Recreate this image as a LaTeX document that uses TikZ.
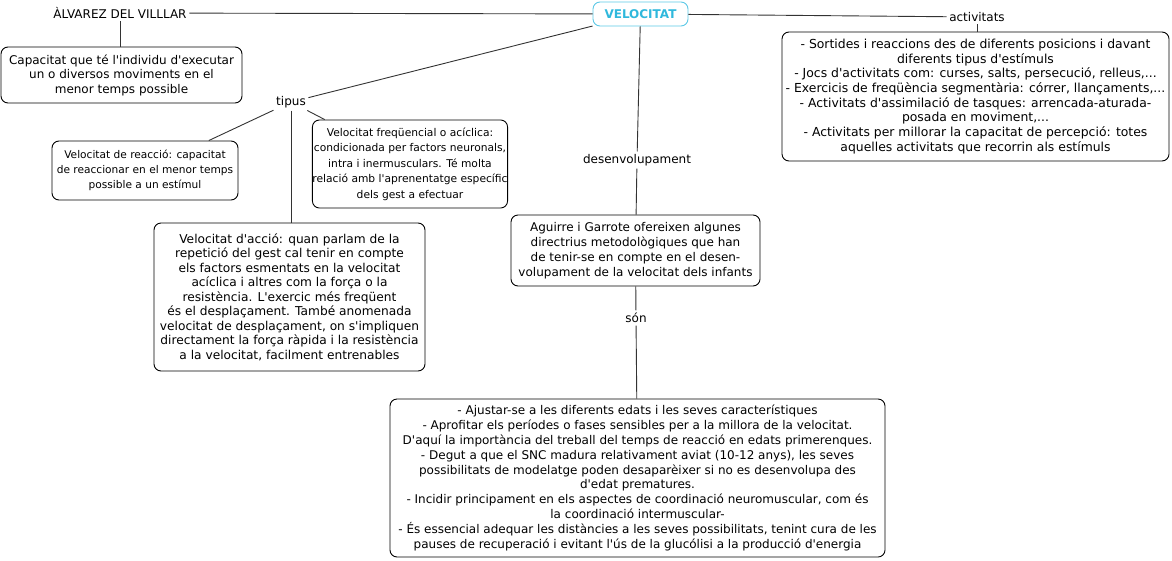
\documentclass[tikz,border=0pt]{standalone}
\usepackage{fontspec}
\setmainfont{DejaVu Sans}[Ligatures=TeXOff]
\definecolor{velc}{HTML}{2FB8DC}
\definecolor{velb}{HTML}{5CC8E6}
\definecolor{linec}{HTML}{333333}
\begin{document}
\begin{tikzpicture}[x=1pt,y=-1pt,
  every node/.style={font=\fontsize{12}{15}\selectfont},
  fsz/.style 2 args={font=\fontsize{#1}{#2}\selectfont},
  box/.style={draw=black,rounded corners=7pt,align=center,inner sep=0pt,line width=0.9pt},
  lbl/.style={inner sep=2.5pt},
  conn/.style={draw=linec,line width=0.9pt}]
\useasboundingbox (0,0) rectangle (1172,560);
\node[box,draw=velb,text=velc,font=\fontsize{12}{15}\selectfont\bfseries,minimum width=95pt,minimum height=24pt] (vel) at (640.5,14) {VELOCITAT};
\node[lbl] (alv) at (120,13) {ÀLVAREZ DEL VILLLAR};
\node[lbl] (act) at (977,17) {activitats};
\node[lbl] (tip) at (291,102) {tipus};
\node[lbl] (des) at (637,160) {desenvolupament};
\node[lbl] (son) at (636,318) {són};
\node[box,fsz={12}{14.5},minimum width=241pt,minimum height=56pt] (cap) at (121.5,75) {Capacitat que té l'individu d'executar\\un o diversos moviments en el\\menor temps possible};
\node[box,fsz={10.6}{15},minimum width=186pt,minimum height=59pt] (rea) at (145,170.5) {Velocitat de reacció: capacitat\\de reaccionar en el menor temps\\possible a un estímul};
\node[box,fsz={10.7}{15.5},minimum width=194pt,minimum height=88pt] (fre) at (410,164) {Velocitat freqüencial o acíclica:\\condicionada per factors neuronals,\\intra i inermusculars. Té molta\\relació amb l'aprenentatge específic\\dels gest a efectuar};
\node[box,fsz={12.2}{14.5},minimum width=271pt,minimum height=148pt] (acc) at (289.5,297) {Velocitat d'acció: quan parlam de la\\repetició del gest cal tenir en compte\\els factors esmentats en la velocitat\\acíclica i altres com la força o la\\resistència. L'exercic més freqüent\\és el desplaçament. També anomenada\\velocitat de desplaçament, on s'impliquen\\directament la força ràpida i la resistència\\a la velocitat, facilment entrenables};
\node[box,minimum width=249pt,minimum height=71pt] (agu) at (635.5,250.5) {Aguirre i Garrote ofereixen algunes\\directrius metodològiques que han\\de tenir-se en compte en el desen-\\volupament de la velocitat dels infants};
\node[box,fsz={12}{14.8},minimum width=495pt,minimum height=158pt] (bot) at (637.5,478) {- Ajustar-se a les diferents edats i les seves característiques\\- Aprofitar els períodes o fases sensibles per a la millora de la velocitat.\\D'aquí la importància del treball del temps de reacció en edats primerenques.\\- Degut a que el SNC madura relativament aviat (10-12 anys), les seves\\possibilitats de modelatge poden desaparèixer si no es desenvolupa des\\d'edat prematures.\\- Incidir principament en els aspectes de coordinació neuromuscular, com és\\la coordinació intermuscular-\\- És essencial adequar les distàncies a les seves possibilitats, tenint cura de les\\pauses de recuperació i evitant l'ús de la glucólisi a la producció d'energia};
\node[box,fsz={12.4}{14.7},minimum width=387pt,minimum height=129pt] (acb) at (975.5,96.5) {- Sortides i reaccions des de diferents posicions i davant\\diferents tipus d'estímuls\\- Jocs d'activitats com: curses, salts, persecució, relleus,...\\- Exercicis de freqüència segmentària: córrer, llançaments,...\\- Activitats d'assimilació de tasques: arrencada-aturada-\\posada en moviment,...\\- Activitats per millorar la capacitat de percepció: totes\\aquelles activitats que recorrin als estímuls};
\draw[conn] (alv) -- (vel);
\draw[conn] (vel) -- (act);
\draw[conn] (alv.south) -- (alv.south |- cap.north);
\draw[conn] (act.south) -- (act.south |- acb.north);
\draw[conn] (vel) -- (tip);
\draw[conn] (tip) -- (rea);
\draw[conn] (tip) -- (fre);
\draw[conn] (tip.south) -- (tip.south |- acc.north);
\draw[conn] (vel) -- (des);
\draw[conn] (des) -- (agu);
\draw[conn] (agu) -- (son);
\draw[conn] (son) -- (bot);
\end{tikzpicture}
\end{document}
